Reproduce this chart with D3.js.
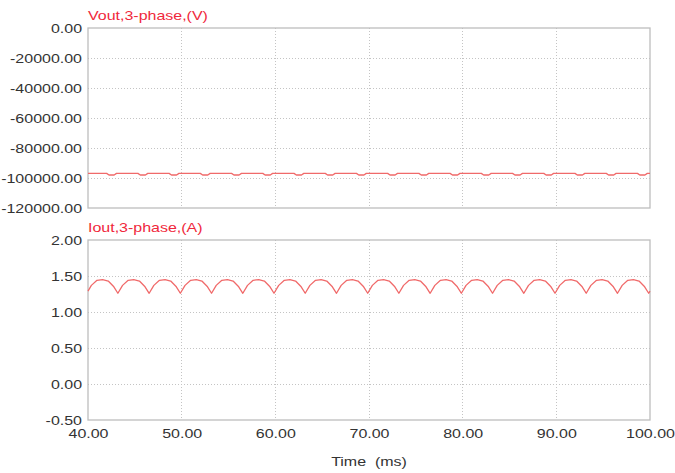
<!DOCTYPE html>
<html>
<head>
<meta charset="utf-8">
<script src="https://cdn.jsdelivr.net/npm/d3@7"></script>
<style>
html,body{margin:0;padding:0;background:#fff;}
svg{display:block;}
text{font-family:"Liberation Sans",Arial,sans-serif;}
</style>
</head>
<body>
<svg id="chart" width="675" height="473"></svg>
<script>
// ---- data ----
const xTicks = [40, 50, 60, 70, 80, 90, 100];
const voutTicks = [0, -20000, -40000, -60000, -80000, -100000, -120000];
const ioutTicks = [2.0, 1.5, 1.0, 0.5, 0.0, -0.5];
const voutTitle = "Vout,3-phase,(V)";
const ioutTitle = "Iout,3-phase,(A)";
const xTitle = "Time  (ms)";

const voutTime = [40.00,
 41.99,42.24,42.79,43.04, 45.33,45.58,46.13,46.38, 48.66,48.91,49.46,49.71,
 51.99,52.24,52.79,53.04, 55.33,55.58,56.13,56.38, 58.66,58.91,59.46,59.71,
 61.99,62.24,62.79,63.04, 65.33,65.58,66.13,66.38, 68.66,68.91,69.46,69.71,
 71.99,72.24,72.79,73.04, 75.33,75.58,76.13,76.38, 78.66,78.91,79.46,79.71,
 81.99,82.24,82.79,83.04, 85.33,85.58,86.13,86.38, 88.66,88.91,89.46,89.71,
 91.99,92.24,92.79,93.04, 95.33,95.58,96.13,96.38, 98.66,98.91,99.46,99.71,
 100.00];
const voutValue = [-96900,
 -96900,-98000,-98000,-96900, -96900,-98000,-98000,-96900, -96900,-98000,-98000,-96900,
 -96900,-98000,-98000,-96900, -96900,-98000,-98000,-96900, -96900,-98000,-98000,-96900,
 -96900,-98000,-98000,-96900, -96900,-98000,-98000,-96900, -96900,-98000,-98000,-96900,
 -96900,-98000,-98000,-96900, -96900,-98000,-98000,-96900, -96900,-98000,-98000,-96900,
 -96900,-98000,-98000,-96900, -96900,-98000,-98000,-96900, -96900,-98000,-98000,-96900,
 -96900,-98000,-98000,-96900, -96900,-98000,-98000,-96900, -96900,-98000,-98000,-96900,
 -96900];

const ioutTime = [
 40.00,40.36,40.96,41.56,42.16,42.76,
 43.19,43.69,44.29,44.89,45.49,46.09,
 46.53,47.03,47.63,48.23,48.83,49.43,
 49.86,50.36,50.96,51.56,52.16,52.76,
 53.19,53.69,54.29,54.89,55.49,56.09,
 56.53,57.03,57.63,58.23,58.83,59.43,
 59.86,60.36,60.96,61.56,62.16,62.76,
 63.19,63.69,64.29,64.89,65.49,66.09,
 66.53,67.03,67.63,68.23,68.83,69.43,
 69.86,70.36,70.96,71.56,72.16,72.76,
 73.19,73.69,74.29,74.89,75.49,76.09,
 76.53,77.03,77.63,78.23,78.83,79.43,
 79.86,80.36,80.96,81.56,82.16,82.76,
 83.19,83.69,84.29,84.89,85.49,86.09,
 86.53,87.03,87.63,88.23,88.83,89.43,
 89.86,90.36,90.96,91.56,92.16,92.76,
 93.19,93.69,94.29,94.89,95.49,96.09,
 96.53,97.03,97.63,98.23,98.83,99.43,
 99.86,100.00];
const ioutValue = [
 1.29,1.37,1.44,1.45,1.43,1.35,
 1.26,1.37,1.44,1.45,1.43,1.35,
 1.26,1.37,1.44,1.45,1.43,1.35,
 1.26,1.37,1.44,1.45,1.43,1.35,
 1.26,1.37,1.44,1.45,1.43,1.35,
 1.26,1.37,1.44,1.45,1.43,1.35,
 1.26,1.37,1.44,1.45,1.43,1.35,
 1.26,1.37,1.44,1.45,1.43,1.35,
 1.26,1.37,1.44,1.45,1.43,1.35,
 1.26,1.37,1.44,1.45,1.43,1.35,
 1.26,1.37,1.44,1.45,1.43,1.35,
 1.26,1.37,1.44,1.45,1.43,1.35,
 1.26,1.37,1.44,1.45,1.43,1.35,
 1.26,1.37,1.44,1.45,1.43,1.35,
 1.26,1.37,1.44,1.45,1.43,1.35,
 1.26,1.37,1.44,1.45,1.43,1.35,
 1.26,1.37,1.44,1.45,1.43,1.35,
 1.26,1.37,1.44,1.45,1.43,1.35,
 1.26,1.29];

// ---- layout ----
const SX = 1.23;               // horizontal text stretch seen in reference
const FONT = 13;
const svg = d3.select("#chart");
const x = d3.scaleLinear().domain([40, 100]).range([88, 650]);
const yV = d3.scaleLinear().domain([-120000, 0]).range([208, 28]);
const yI = d3.scaleLinear().domain([-0.5, 2]).range([420, 240]);
const fmt = d3.formatLocale({decimal: ".", thousands: "", grouping: [3], currency: ["", ""], minus: "-"}).format(".2f");
const gridCol = "#c4c4c4", frameCol = "#bdbdbd", lineCol = "#f06a6a", titleCol = "#f0283c";
const FF = '"Liberation Sans",Arial,sans-serif';

function panel(y, yTicks, time, vals, title, withXAxis) {
  const [y1, y0] = y.range();   // y1 bottom, y0 top
  const g = svg.append("g");
  // grid
  g.selectAll(".vg").data(xTicks.slice(1, -1)).join("line")
    .attr("x1", d => x(d)).attr("x2", d => x(d)).attr("y1", y0).attr("y2", y1)
    .attr("stroke", gridCol).attr("stroke-width", 1).attr("stroke-dasharray", "1,2")
    .attr("shape-rendering", "crispEdges");
  g.selectAll(".hg").data(yTicks.filter(d => y(d) > y0 + 0.5 && y(d) < y1 - 0.5)).join("line")
    .attr("x1", x.range()[0]).attr("x2", x.range()[1]).attr("y1", d => y(d)).attr("y2", d => y(d))
    .attr("stroke", gridCol).attr("stroke-width", 1).attr("stroke-dasharray", "1,2")
    .attr("shape-rendering", "crispEdges");
  // frame
  g.append("rect").attr("x", x.range()[0]).attr("y", y0)
    .attr("width", x.range()[1] - x.range()[0]).attr("height", y1 - y0)
    .attr("fill", "none").attr("stroke", frameCol).attr("stroke-width", 1.3);
  // y axis
  const ax = g.append("g").attr("transform", `translate(${x.range()[0]},0)`)
    .call(d3.axisLeft(y).tickValues(yTicks).tickFormat(fmt).tickSize(0).tickPadding(6));
  ax.select(".domain").remove();
  ax.selectAll("text").attr("x", -6 / SX).attr("dy", "0.38em")
    .attr("transform", `scale(${SX},1)`)
    .attr("font-size", FONT).attr("font-family", FF).attr("fill", "#333");
  // title
  g.append("text").attr("transform", `translate(${x.range()[0]},${y0 - 8}) scale(${SX},1)`)
    .attr("font-size", FONT).attr("font-family", FF).attr("fill", titleCol).text(title);
  // data line
  const pts = time.map((t, i) => [t, vals[i]]);
  g.append("path").datum(pts)
    .attr("d", d3.line().x(d => x(d[0])).y(d => y(d[1])))
    .attr("fill", "none").attr("stroke", lineCol).attr("stroke-width", 1.3)
    .attr("stroke-linejoin", "round");
  if (withXAxis) {
    const bx = g.append("g").attr("transform", `translate(0,${y1})`)
      .call(d3.axisBottom(x).tickValues(xTicks).tickFormat(fmt).tickSize(0).tickPadding(9));
    bx.select(".domain").remove();
    bx.selectAll("text").attr("transform", `scale(${SX},1)`)
      .attr("font-size", FONT).attr("font-family", FF).attr("fill", "#333");
    g.append("text").attr("transform", `translate(369,466) scale(${SX},1)`)
      .attr("text-anchor", "middle").attr("font-size", FONT).attr("font-family", FF).attr("fill", "#333")
      .attr("xml:space", "preserve").style("white-space", "pre").text(xTitle);
  }
}

panel(yV, voutTicks, voutTime, voutValue, voutTitle, false);
panel(yI, ioutTicks, ioutTime, ioutValue, ioutTitle, true);
</script>
</body>
</html>
